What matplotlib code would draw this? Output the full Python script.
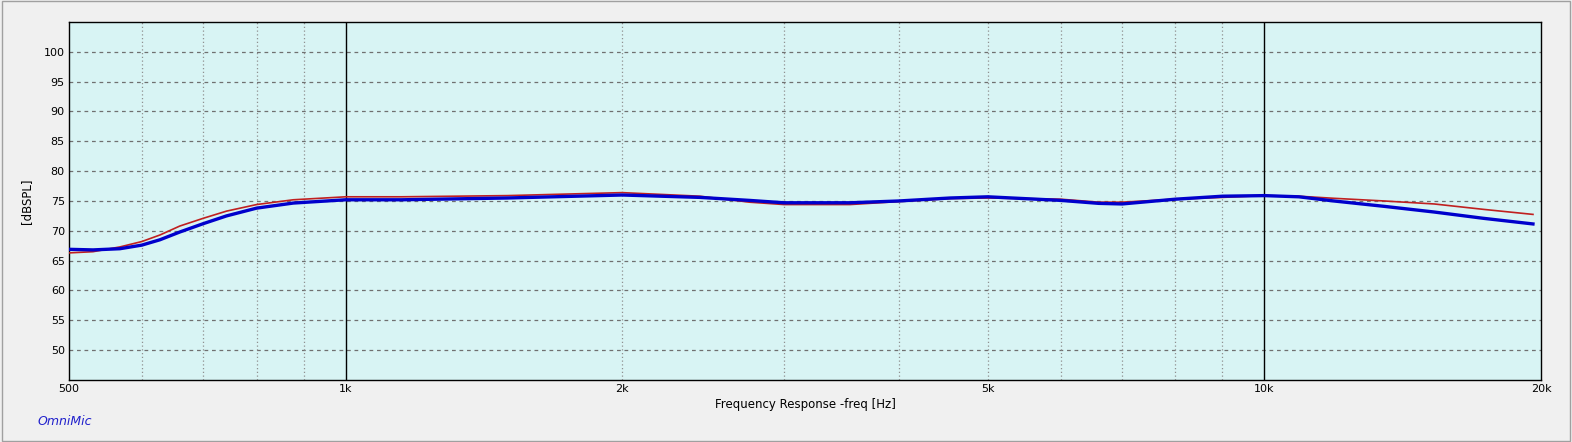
import numpy as np
import matplotlib
matplotlib.use("Agg")
import matplotlib.pyplot as plt
from matplotlib.patches import Rectangle
from matplotlib.ticker import FixedLocator, NullFormatter

# frequency response
freq = [500, 531, 568, 600, 628, 660, 700, 742, 800, 877, 1000, 1150, 1500, 2000,
        2430, 2750, 3000, 3540, 4000, 4550, 5000, 6000, 6600, 7000, 8000, 9000,
        10000, 10900, 11900, 13500, 15300, 17300, 19600]
blue_db = [66.9, 66.8, 67.0, 67.6, 68.5, 69.8, 71.2, 72.5, 73.8, 74.65, 75.2, 75.2, 75.5, 76.0,
           75.6, 75.1, 74.7, 74.7, 75.0, 75.5, 75.7, 75.1, 74.6, 74.5, 75.3, 75.8,
           75.9, 75.7, 75.0, 74.1, 73.15, 72.1, 71.15]
red_db = [66.3, 66.5, 67.3, 68.2, 69.3, 70.8, 72.1, 73.3, 74.4, 75.2, 75.7, 75.7, 75.9, 76.4,
          75.8, 74.8, 74.4, 74.4, 74.9, 75.4, 75.5, 75.3, 74.8, 74.8, 75.3, 75.6,
          75.9, 75.8, 75.45, 75.0, 74.5, 73.6, 72.75]

y_ticks = [50, 55, 60, 65, 70, 75, 80, 85, 90, 95, 100]
x_labels = {500: "500", 1000: "1k", 2000: "2k", 5000: "5k", 10000: "10k", 20000: "20k"}
minor_grid = [600, 700, 800, 900, 2000, 3000, 4000, 5000, 6000, 7000, 8000, 9000]
major_grid = [1000, 10000]

plt.rcParams['font.family'] = ['DejaVu Sans']
fig = plt.figure(figsize=(15.72, 4.42), dpi=100, facecolor="#F0F0F0")
ax = fig.add_axes([0.0439, 0.1403, 0.9364, 0.8100])
ax.set_facecolor("#D8F4F4")

ax.set_xscale("log")
ax.set_xlim(500, 20000)
ax.set_ylim(45, 105)

for y in y_ticks:
    ax.axhline(y, color="#707070", lw=0.9, ls=(0, (3, 3)), zorder=1)
for f in minor_grid:
    ax.axvline(f, color="#909090", lw=0.9, ls=(0, (1, 2)), zorder=1)
for f in major_grid:
    ax.axvline(f, color="black", lw=1.0, zorder=1)

ax.plot(freq, red_db, color="#C02020", lw=1.2, zorder=3)
ax.plot(freq, blue_db, color="#0000CC", lw=2.4, zorder=4)

ax.xaxis.set_major_locator(FixedLocator(list(x_labels.keys())))
ax.set_xticklabels(list(x_labels.values()))
ax.xaxis.set_minor_formatter(NullFormatter())
ax.xaxis.set_minor_locator(FixedLocator([]))
ax.set_yticks(y_ticks)
ax.tick_params(length=0, labelsize=8, pad=3)

for s in ax.spines.values():
    s.set_color("black")
    s.set_linewidth(1.0)

ax.set_xlabel("Frequency Response -freq [Hz]", fontsize=8.5, labelpad=3)
ax.set_ylabel("[dBSPL]", fontsize=8.5, labelpad=8)

fig.text(0.024, 0.038, "OmniMic", color="#2020CC", fontsize=9, style="italic")
fig.patches.append(Rectangle((0.001, 0.002), 0.998, 0.995, transform=fig.transFigure,
                             fill=False, edgecolor="#A0A0A0", lw=1.0))

fig.savefig("out.png", dpi=100, facecolor=fig.get_facecolor())
